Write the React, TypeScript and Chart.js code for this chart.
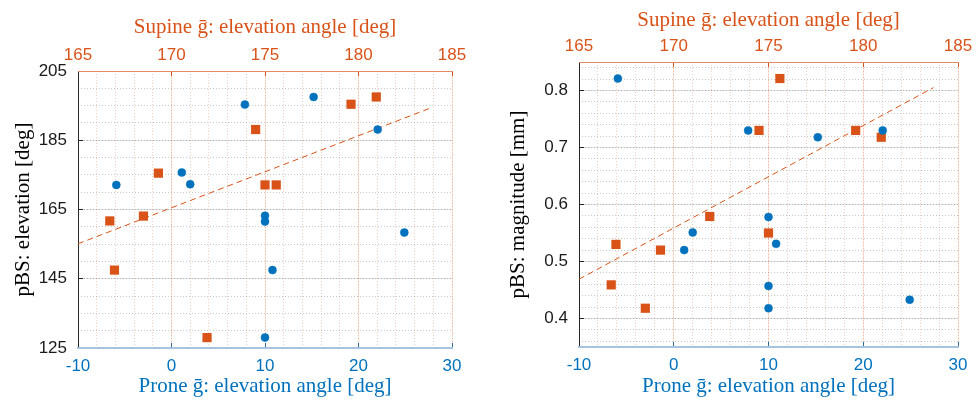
import React, { useEffect, useRef } from 'react';
import { Chart, registerables } from 'chart.js';

Chart.register(...registerables);

const BLUE = '#0072BD';
const ORANGE = '#D95319';

// Prone ḡ elevation angle (bottom axis) and pBS values
const proneAngle = [-5.9, 1.1, 2.0, 7.85, 15.2, 22.05, 10, 10, 10, 24.9, 10.8];
const proneElevation = [172.1, 175.7, 172.3, 195.3, 197.5, 188.1, 163.2, 161.5, 128.05, 158.35, 147.5];
const proneMagnitude = [0.821, 0.52, 0.551, 0.73, 0.718, 0.73, 0.578, 0.457, 0.418, 0.433, 0.531];

// Supine ḡ elevation angle (top axis) and pBS values
const supineAngle = [169.3, 174.5, 175.0, 175.6, 179.6, 180.95, 166.7, 168.5, 166.95, 171.9];
const supineElevation = [175.5, 188.1, 172.1, 172.1, 195.4, 197.5, 161.7, 163.1, 147.5, 128.0];
const supineMagnitude = [0.52, 0.73, 0.55, 0.821, 0.73, 0.718, 0.459, 0.418, 0.53, 0.579];

// Dashed fit lines (supine axis)
const fitElevationX = [165, 183.9];
const fitElevationY = [155.1, 194.4];
const fitMagnitudeX = [165, 183.7];
const fitMagnitudeY = [0.469, 0.805];

// Axis ranges and tick labels
const proneRange = [-10, 30];
const supineRange = [165, 185];
const elevationRange = [125, 205];
const magnitudeRange = [0.35, 0.85];
const elevationTicks = [125, 145, 165, 185, 205];
const magnitudeTicks = [0.4, 0.5, 0.6, 0.7, 0.8];

const topTitle = 'Supine ḡ: elevation angle [deg]';
const bottomTitle = 'Prone ḡ: elevation angle [deg]';
const elevationTitle = 'pBS: elevation [deg]';
const magnitudeTitle = 'pBS: magnitude [mm]';

const tickFont = { family: "'Liberation Sans', Arial, sans-serif", size: 17 };
const titleFont = { family: "'Liberation Serif', 'DejaVu Serif', serif", size: 21 };
const TICK_IN = -5;

type Panel = {
  proneY: number[];
  supineY: number[];
  fitX: number[];
  fitY: number[];
  yRange: number[];
  yTicks: number[];
  yMinor: number;
  yTitle: string;
  yWidth: number;
  topHeight: number;
  bottomHeight: number;
  rightPad: number;
  yTitlePad: number;
  topTitlePad: number;
  topTickPad: number;
};

function toPoints(xs: number[], ys: number[]) {
  return xs.map((x, i) => ({ x, y: ys[i] }));
}

// minor grid positions: multiples of step inside range
function minorValues(range: number[], step: number) {
  const out: { value: number }[] = [];
  const start = Math.ceil(range[0] / step - 1e-9);
  const end = Math.floor(range[1] / step + 1e-9);
  for (let k = start; k <= end; k++) out.push({ value: +(k * step).toFixed(6) });
  return out;
}

function fixSize(prop: 'width' | 'height', size: number) {
  return (s: any) => {
    s[prop] = size;
    s.paddingLeft = 0;
    s.paddingRight = 0;
    s.paddingTop = 0;
    s.paddingBottom = 0;
  };
}

function buildConfig(p: Panel): any {
  return {
    type: 'scatter',
    data: {
      datasets: [
        {
          label: 'Prone',
          data: toPoints(proneAngle, p.proneY),
          xAxisID: 'x',
          yAxisID: 'y',
          pointStyle: 'circle',
          pointRadius: 4,
          backgroundColor: BLUE,
          borderColor: BLUE,
          borderWidth: 0.5,
        },
        {
          label: 'Supine',
          data: toPoints(supineAngle, p.supineY),
          xAxisID: 'x2',
          yAxisID: 'y',
          pointStyle: 'rect',
          pointRadius: 6.5,
          backgroundColor: ORANGE,
          borderColor: ORANGE,
          borderWidth: 0,
        },
        {
          label: 'Fit',
          data: toPoints(p.fitX, p.fitY),
          xAxisID: 'x2',
          yAxisID: 'y',
          showLine: true,
          pointRadius: 0,
          borderColor: ORANGE,
          borderWidth: 1,
          borderDash: [6, 4],
        },
      ],
    },
    options: {
      animation: false,
      responsive: false,
      devicePixelRatio: 1,
      layout: { padding: { left: 0, right: p.rightPad, top: 0, bottom: 0 } },
      plugins: { legend: { display: false }, tooltip: { enabled: false } },
      scales: {
        y: {
          type: 'linear',
          position: 'left',
          min: p.yRange[0],
          max: p.yRange[1],
          ticks: { color: '#1a1a1a', font: tickFont, padding: 11 - TICK_IN },
          afterBuildTicks: (s: any) => {
            s.ticks = p.yTicks.map((v) => ({ value: v }));
          },
          grid: {
            color: 'rgba(0,0,0,0.11)',
            drawTicks: true,
            tickLength: TICK_IN,
            tickColor: '#262626',
            tickWidth: 1,
            lineWidth: 1,
          },
          border: { color: '#262626', width: 1 },
          title: {
            display: true,
            text: p.yTitle,
            font: titleFont,
            color: '#000',
            padding: { top: p.yTitlePad, bottom: 0 },
          },
          afterFit: fixSize('width', p.yWidth),
        },
        yMinor: {
          type: 'linear',
          position: 'left',
          min: p.yRange[0],
          max: p.yRange[1],
          ticks: { display: false },
          afterBuildTicks: (s: any) => {
            s.ticks = minorValues(p.yRange, p.yMinor);
          },
          grid: { color: 'rgba(0,0,0,0.22)', drawTicks: false, lineWidth: 1 },
          border: { display: false, dash: [1, 2] },
          afterFit: fixSize('width', 0),
        },
        x: {
          type: 'linear',
          position: 'bottom',
          min: proneRange[0],
          max: proneRange[1],
          ticks: { stepSize: 10, color: BLUE, font: tickFont, padding: 8 - TICK_IN },
          grid: {
            drawOnChartArea: false,
            drawTicks: true,
            tickLength: TICK_IN,
            tickColor: BLUE,
            tickWidth: 1,
          },
          border: { color: '#a6c4de', width: 2 },
          title: {
            display: true,
            text: bottomTitle,
            font: titleFont,
            color: BLUE,
            padding: { top: 0, bottom: 2 },
          },
          afterFit: fixSize('height', p.bottomHeight),
        },
        x2: {
          type: 'linear',
          position: 'top',
          min: supineRange[0],
          max: supineRange[1],
          ticks: { stepSize: 5, color: ORANGE, font: tickFont, padding: p.topTickPad - TICK_IN },
          grid: {
            color: 'rgba(217,83,25,0.16)',
            drawTicks: true,
            tickLength: TICK_IN,
            tickColor: ORANGE,
            tickWidth: 1,
            lineWidth: 1,
          },
          border: { color: '#e38a63', width: 1 },
          title: {
            display: true,
            text: topTitle,
            font: titleFont,
            color: ORANGE,
            padding: { top: p.topTitlePad, bottom: 0 },
          },
          afterFit: fixSize('height', p.topHeight),
        },
        xMinor: {
          type: 'linear',
          position: 'bottom',
          min: proneRange[0],
          max: proneRange[1],
          ticks: { display: false },
          afterBuildTicks: (s: any) => {
            s.ticks = minorValues(proneRange, 2);
          },
          grid: { color: 'rgba(217,83,25,0.28)', drawTicks: false, lineWidth: 1 },
          border: { display: false, dash: [1, 2] },
          afterFit: fixSize('height', 0),
        },
      },
    },
  };
}

const leftPanel: Panel = {
  proneY: proneElevation,
  supineY: supineElevation,
  fitX: fitElevationX,
  fitY: fitElevationY,
  yRange: elevationRange,
  yTicks: elevationTicks,
  yMinor: 5,
  yTitle: elevationTitle,
  yWidth: 78,
  topHeight: 71,
  bottomHeight: 53,
  rightPad: 38,
  yTitlePad: 11,
  topTitlePad: 15,
  topTickPad: 5,
};

const rightPanel: Panel = {
  proneY: proneMagnitude,
  supineY: supineMagnitude,
  fitX: fitMagnitudeX,
  fitY: fitMagnitudeY,
  yRange: magnitudeRange,
  yTicks: magnitudeTicks,
  yMinor: 0.02,
  yTitle: magnitudeTitle,
  yWidth: 89,
  topHeight: 62,
  bottomHeight: 54,
  rightPad: 19,
  yTitlePad: 16,
  topTitlePad: 8,
  topTickPad: 5,
};

function PanelChart({ panel, left, width }: { panel: Panel; left: number; width: number }) {
  const ref = useRef<HTMLCanvasElement | null>(null);
  useEffect(() => {
    if (!ref.current) return;
    const chart = new Chart(ref.current, buildConfig(panel));
    return () => chart.destroy();
  }, [panel]);
  return (
    <canvas
      ref={ref}
      width={width}
      height={401}
      style={{ position: 'absolute', left, top: 0, width, height: 401 }}
    />
  );
}

export default function App() {
  return (
    <div
      style={{
        position: 'absolute',
        left: 0,
        top: 0,
        width: 977,
        height: 401,
        background: '#fff',
        overflow: 'hidden',
      }}
    >
      <PanelChart panel={leftPanel} left={0} width={490} />
      <PanelChart panel={rightPanel} left={490} width={487} />
    </div>
  );
}
